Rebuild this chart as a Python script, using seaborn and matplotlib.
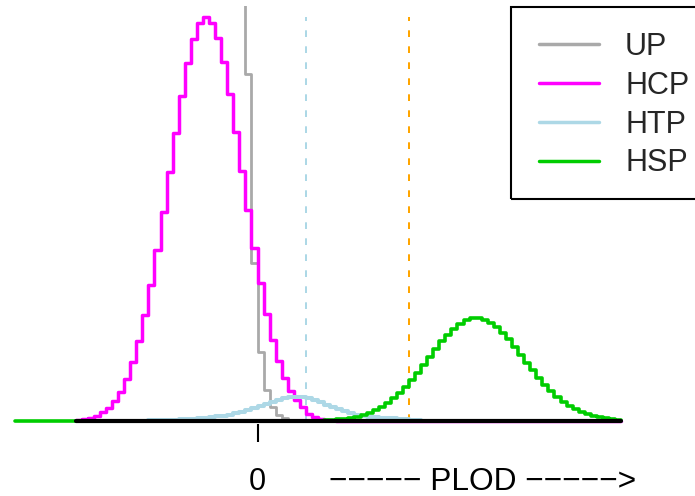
import numpy as np
import pandas as pd
import matplotlib
matplotlib.use("Agg")
import matplotlib.pyplot as plt
import seaborn as sns
from matplotlib.lines import Line2D
from matplotlib.patches import Rectangle

# ---------------- data ----------------
BIN = 0.2  # bin width on the PLOD axis

hcp_start = -6.0
hcp = [0.1, 0.16, 0.26, 0.4, 0.7, 1.06, 1.6, 2.34, 3.36, 4.74,
       6.4, 8.48, 10.88, 13.68, 16.74, 19.9, 23.06, 26.0, 28.62, 30.54,
       31.82, 32.3, 31.86, 30.62, 28.74, 26.14, 23.14, 20.02, 16.88, 13.86,
       11.02, 8.54, 6.48, 4.8, 3.42, 2.4, 1.68, 1.14, 0.55, 0.34,
       0.2, 0.12, 0.06, 0.03] + [0.0] * 47

up_start = -0.6
up = [40.0, 27.76, 12.64, 5.54, 2.48, 1.14, 0.48, 0.24, 0.08, 0.02] + [0.0] * 54

htp_start = -6.0
htp = [0.0] * 10 + [
    0.024, 0.032, 0.044, 0.056, 0.072, 0.088, 0.108, 0.128, 0.152, 0.184,
    0.216, 0.264, 0.32, 0.376, 0.44, 0.52, 0.64, 0.76, 0.904, 1.04,
    1.2, 1.36, 1.52, 1.68, 1.816, 1.896, 1.944, 1.944, 1.864, 1.704,
    1.52, 1.32, 1.16, 0.984, 0.8, 0.64, 0.504, 0.424, 0.36, 0.32,
    0.28, 0.24, 0.208, 0.176, 0.144, 0.104, 0.072, 0.04, 0.016] + [0.0] * 32

hsp_start = -8.0
hsp = [0.0] * 45 + [0.005, 0.01, 0.015, 0.02, 0.03] + [
    0.04, 0.06, 0.09, 0.13, 0.18, 0.26, 0.36, 0.49, 0.66, 0.87,
    1.14, 1.45, 1.82, 2.26, 2.74, 3.29, 3.88, 4.5, 5.14, 5.75,
    6.37, 6.92, 7.4, 7.78, 8.06, 8.22, 8.24, 8.12, 7.88, 7.52,
    7.06, 6.53, 5.94, 5.31, 4.68, 4.06, 3.46, 2.9, 2.39, 1.94,
    1.55, 1.22, 0.94, 0.72, 0.54, 0.39, 0.29, 0.21, 0.14, 0.1, 0.06]

baseline_x = [-6.0, 12.0]
cut_htp = 1.6
cut_hsp = 5.0

labels = ["UP", "HCP", "HTP", "HSP"]
colors = ["#A9A9A9", "#FF00FF", "#ADD8E6", "#00CD00"]
tick_label = "0"
axis_text = "\u2212\u2212\u2212\u2212\u2212 PLOD \u2212\u2212\u2212\u2212\u2212>"


def xgrid(start, vals):
    return start + BIN * np.arange(len(vals))


# ---------------- figure ----------------
sns.set_theme(style="white")
plt.rcParams["font.family"] = ["Liberation Sans", "DejaVu Sans"]

W, H = 695, 496
fig = plt.figure(figsize=(W / 100, H / 100), dpi=100)
AX_TOP, AX_BOT = 6.0, 423.5
ax = fig.add_axes([0, 1 - AX_BOT / H, 1, (AX_BOT - AX_TOP) / H])
ax.set_facecolor("white")

X0, PXX = 257.5, 30.3
Y0, PXY = 421.0, 12.5
ax.set_xlim(-X0 / PXX, (W - X0) / PXX)
ax.set_ylim(-(AX_BOT - Y0) / PXY, (Y0 - AX_TOP) / PXY)

series = [(up_start, up, 2.0), (hcp_start, hcp, 2.5),
          (htp_start, htp, 2.9), (hsp_start, hsp, 2.6)]
for (start, vals, lw), col, lab in zip(series, colors, labels):
    sns.lineplot(x=xgrid(start, vals), y=vals, drawstyle="steps-post",
                 estimator=None, sort=False, color=col, lw=lw, ax=ax,
                 legend=False)

# black zero line
sns.lineplot(x=baseline_x, y=[0, 0], color="black", lw=3.0, ax=ax,
             estimator=None, sort=False, legend=False, zorder=5)

# dashed cut-off lines
top = max(hcp)
ax.plot([cut_htp, cut_htp], [0, top], color="#ADD8E6", lw=1.44,
        ls=(0, (3.35, 4.65)), zorder=1)
ax.plot([cut_hsp, cut_hsp], [0, top], color="#FFA500", lw=1.44,
        ls=(0, (3.35, 4.65)), zorder=1)

for s in ax.spines.values():
    s.set_visible(False)
ax.set_yticks([])
ax.set_xticks([0])
ax.set_xticklabels([tick_label])
ax.tick_params(axis="x", bottom=True, length=13, width=1.5, direction="out",
               pad=18.5, labelsize=22, colors="black")
ax.grid(False)

fig.text(482.4 / W, 1 - 489.5 / H, axis_text,
         ha="center", va="baseline", fontsize=22.8, color="black")

# legend
handles = [Line2D([], [], color=c, lw=2.5) for c in colors]
FS_PX = 22 * 100 / 72
leg = ax.legend(handles, labels, loc="upper left",
                bbox_to_anchor=(539 / W, 1 - 31.9 / H),
                bbox_transform=fig.transFigure, frameon=False,
                borderpad=0, borderaxespad=0,
                handlelength=60 / FS_PX, handletextpad=26 / FS_PX,
                labelspacing=0.29, fontsize=22)
fig.add_artist(Rectangle((511 / W, 1 - 199 / H), (710 - 511) / W,
                         (199 - 6.7) / H, transform=fig.transFigure,
                         fill=False, ec="black", lw=1.5, clip_on=False))

fig.savefig("out.png", dpi=100)
